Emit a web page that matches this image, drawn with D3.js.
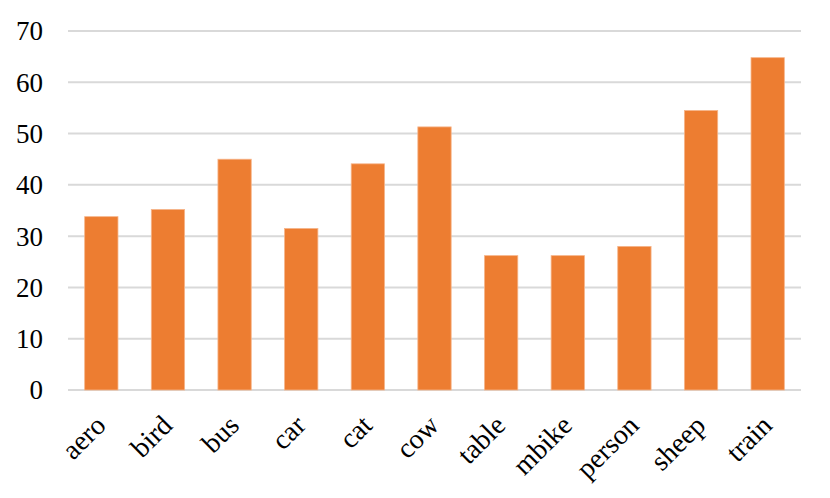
<!DOCTYPE html>
<html lang="en">
<head>
  <meta charset="UTF-8">
  <title>Per-class bar chart</title>
  <script src="https://d3js.org/d3.v7.min.js"></script>
  <style>
    body { margin: 0; background: #fff; }
    svg text { font-family: "Liberation Serif", "Times New Roman", serif; fill: #000; }
  </style>
</head>
<body>
  <svg id="chart"></svg>
  <script>
    const categories = ["aero", "bird", "bus", "car", "cat", "cow", "table", "mbike", "person", "sheep", "train"];
    const values = [33.8, 35.2, 45.0, 31.5, 44.1, 51.3, 26.2, 26.2, 28.0, 54.5, 64.8];
    const yTicks = [0, 10, 20, 30, 40, 50, 60, 70];

    const width = 830;
    const height = 498;
    const margin = { top: 31, right: 29, bottom: 108, left: 68 };

    const svg = d3.select("#chart")
      .attr("width", width)
      .attr("height", height);

    const x = d3.scaleBand()
      .domain(categories)
      .range([margin.left, width - margin.right])
      .paddingInner(0.5)
      .paddingOuter(0.25);

    const y = d3.scaleLinear()
      .domain([0, 70])
      .range([height - margin.bottom, margin.top]);

    // gridlines
    svg.append("g")
      .selectAll("line")
      .data(yTicks)
      .enter()
      .append("line")
      .attr("x1", margin.left)
      .attr("x2", width - margin.right)
      .attr("y1", d => y(d))
      .attr("y2", d => y(d))
      .attr("stroke", "#d9d9d9")
      .attr("stroke-width", 2);

    // y labels
    svg.append("g")
      .selectAll("text")
      .data(yTicks)
      .enter()
      .append("text")
      .attr("x", 43)
      .attr("y", d => y(d))
      .attr("dy", "0.35em")
      .attr("text-anchor", "end")
      .style("font-size", "27px")
      .text(d => d);

    // bars
    svg.append("g")
      .selectAll("rect")
      .data(categories)
      .enter()
      .append("rect")
      .attr("x", d => x(d))
      .attr("width", x.bandwidth())
      .attr("y", (d, i) => y(values[i]))
      .attr("height", (d, i) => y(0) - y(values[i]))
      .attr("fill", "#ed7d31")
      .attr("stroke", "#f6b58a")
      .attr("stroke-width", 0.8);

    // x labels, rotated
    svg.append("g")
      .selectAll("text")
      .data(categories)
      .enter()
      .append("text")
      .attr("text-anchor", "end")
      .attr("transform", d => `translate(${x(d) + x.bandwidth() / 2 + 6}, 427) rotate(-45)`)
      .style("font-size", "28px")
      .text(d => d);
  </script>
</body>
</html>
